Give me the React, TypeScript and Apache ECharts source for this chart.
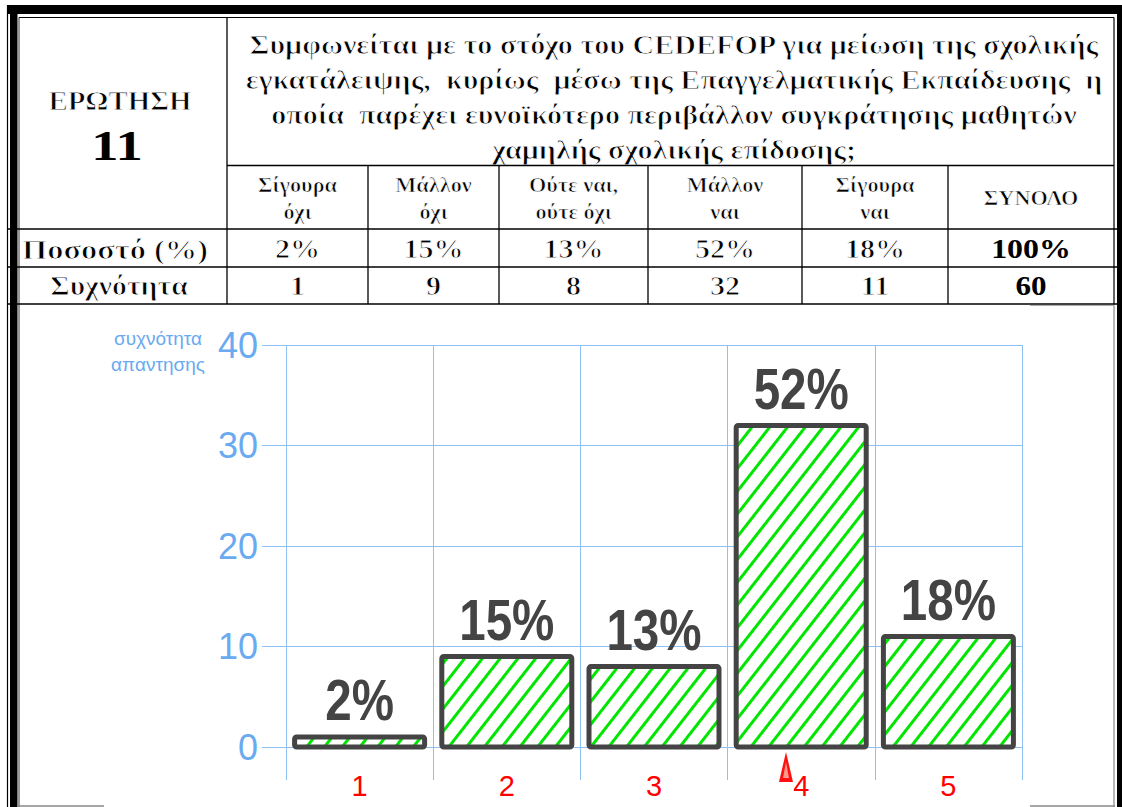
import React, { useEffect, useRef } from "react";
import * as echarts from "echarts";

// ---- data ----
const questionNo = "11";
const questionLines = [
  "Συμφωνείται με το στόχο του CEDEFOP για μείωση της σχολικής",
  "εγκατάλειψης,  κυρίως  μέσω της Επαγγελματικής Εκπαίδευσης  η",
  "οποία  παρέχει ευνοϊκότερο περιβάλλον συγκράτησης μαθητών",
  "χαμηλής σχολικής επίδοσης;",
];
const answerLabels = ["Σίγουρα\nόχι", "Μάλλον\nόχι", "Ούτε ναι,\nούτε όχι", "Μάλλον\nναι", "Σίγουρα\nναι"];
const totalLabel = "ΣΥΝΟΛΟ";
const percentages = [2, 15, 13, 52, 18];
const frequencies = [1, 9, 8, 32, 11];
const totalPercent = 100;
const totalCount = 60;
const categories = ["1", "2", "3", "4", "5"];
const yTicks = [0, 10, 20, 30, 40];

const SANS = "Liberation Sans, Arial, sans-serif";
const SERIF = "'Liberation Serif', serif";
const BLUE_LINE = "#8ec0f4";
const BLUE_TEXT = "#6aaaf0";
const BAR_W = 130;
const SX = 1.115;

function buildTable(): any[] {
  const g: any[] = [];
  const line = (x1: number, y1: number, x2: number, y2: number, w = 1.3, c = "#000") =>
    g.push({ type: "line", silent: true, shape: { x1, y1, x2, y2 }, style: { stroke: c, lineWidth: w } });
  const rect = (x: number, y: number, width: number, height: number, c = "#000") =>
    g.push({ type: "rect", silent: true, shape: { x, y, width, height }, style: { fill: c } });
  // serif text; regular weight is imitated by thinning the bold face with a white outline layer
  const text = (t: string, x: number, y: number, size: number, opts: any = {}) => {
    const base = {
      type: "text",
      silent: true,
      x,
      y,
      scaleX: opts.sx || SX,
    };
    const st = {
      text: t,
      font: "bold " + size + "px " + SERIF,
      align: "center",
      verticalAlign: "middle",
      lineHeight: opts.lh || Math.round(size * 1.15),
    };
    g.push({ ...base, style: { ...st, fill: "#000" } });
    if (!opts.bold) {
      g.push({ ...base, style: { ...st, fill: "none", stroke: "#fff", lineWidth: opts.thin || 0.9 } });
    }
  };

  rect(7, 5, 1115, 9);
  rect(10, 5, 7.5, 802);
  rect(1117, 5, 5, 802);
  line(7.5, 5, 7.5, 807, 1.2);
  line(19, 17.5, 19, 807, 1.2, "#555");
  line(19, 17.5, 1114, 17.5, 1.2);
  line(1114, 17.5, 1114, 304, 1.2);
  line(1114, 304, 1114, 807, 1.2, "#888");

  const colX = [227, 368, 499, 648, 802, 948, 1114];
  const centers = colX.slice(0, -1).map((x, i) => (x + colX[i + 1]) / 2);

  text("ΕΡΩΤΗΣΗ", 120, 101, 27, { sx: 1.07 });
  text(questionNo, 117, 146, 42, { bold: true, sx: 1.3 });
  questionLines.forEach((l, i) => text(l, 674, 45 + i * 35, 27));
  answerLabels.forEach((l, i) => text(l, centers[i], 199, 20, { lh: 27, thin: 0.7 }));
  text(totalLabel, centers[5], 198, 20, { thin: 0.7 });
  text("Ποσοστό (%)", 115, 249, 27, { sx: 1.2 });
  text("Συχνότητα", 119, 286, 27, { sx: 1.1 });
  percentages.forEach((p, i) => text(p + "%", centers[i], 249, 27));
  frequencies.forEach((f, i) => text(String(f), centers[i], 286, 27));
  text(totalPercent + "%", centers[5], 249, 27, { bold: true, sx: 1.18 });
  text(String(totalCount), centers[5], 286, 27, { bold: true, sx: 1.15 });

  line(227, 17.5, 227, 304);
  line(227, 165.5, 1114, 165.5);
  [229, 267, 304].forEach((y) => line(7, y, 1117, y));
  colX.slice(1, -1).forEach((x) => line(x, 165.5, x, 304));
  line(1030, 305.5, 1114, 305.5, 1, "#aaa");
  line(18, 806, 104, 806, 1.5, "#888");
  line(1030, 806, 1115, 806, 1.5, "#888");

  g.push({
    type: "text",
    silent: true,
    x: 158,
    y: 351,
    style: {
      text: "συχνότητα\nαπαντησης",
      fill: BLUE_TEXT,
      font: "19px " + SANS,
      align: "center",
      verticalAlign: "middle",
      lineHeight: 26,
    },
  });
  g.push({
    type: "polygon",
    silent: true,
    shape: { points: [[786, 752], [779, 782], [793, 782]] },
    style: { fill: "#ff1010" },
  });
  g.push({
    type: "polygon",
    silent: true,
    shape: { points: [[786, 762], [783, 778], [789, 778]] },
    style: { fill: "#ff9a8a" },
  });
  return g;
}

export default function App() {
  const ref = useRef<HTMLDivElement>(null);
  useEffect(() => {
    if (!ref.current) return;
    const chart = echarts.init(ref.current, undefined, { renderer: "svg" });
    chart.setOption({
      animation: false,
      backgroundColor: "#fff",
      grid: { left: 286, right: 100, top: 345, bottom: 60, containLabel: false },
      xAxis: {
        type: "category",
        data: categories,
        boundaryGap: true,
        axisLine: { show: true, lineStyle: { color: BLUE_LINE, width: 1 } },
        axisTick: { show: true, length: 33, lineStyle: { color: BLUE_LINE, width: 1 } },
        splitLine: { show: true, lineStyle: { color: BLUE_LINE, width: 1 } },
        axisLabel: { color: "#ff0000", fontSize: 29, fontFamily: SANS, margin: 24 },
      },
      yAxis: {
        type: "value",
        min: yTicks[0],
        max: yTicks[yTicks.length - 1],
        interval: 10,
        axisLine: { show: false },
        axisTick: { show: true, length: 24, lineStyle: { color: BLUE_LINE, width: 1 } },
        splitLine: { show: true, lineStyle: { color: BLUE_LINE, width: 1 } },
        axisLabel: {
          color: BLUE_TEXT,
          fontSize: 36,
          fontFamily: SANS,
          margin: 28,
          verticalAlign: "middle",
          padding: [0, 0, 16, 0],
        },
      },
      series: [
        {
          type: "bar",
          data: frequencies,
          barWidth: BAR_W,
          z: 2,
          itemStyle: {
            color: "#ffffff",
            borderWidth: 0,
            decal: {
              symbol: "rect",
              symbolSize: 1,
              dashArrayX: [1, 0],
              dashArrayY: [2.3, 11],
              rotation: (-52 * Math.PI) / 180,
              color: "#00e600",
              backgroundColor: "#ffffff",
            },
          },
        },
        {
          type: "custom",
          z: 3,
          data: frequencies.map((v, i) => [i, v]),
          renderItem: (params: any, api: any) => {
            const top = api.coord([api.value(0), api.value(1)]);
            const base = api.coord([api.value(0), 0]);
            return {
              type: "group",
              children: [
                {
                  type: "rect",
                  shape: { x: top[0] - BAR_W / 2, y: top[1], width: BAR_W, height: base[1] - top[1], r: 2 },
                  style: { fill: "none", stroke: "#444444", lineWidth: 5, lineJoin: "round" },
                },
                {
                  type: "text",
                  x: top[0],
                  y: top[1] - 8,
                  scaleX: 0.82,
                  style: {
                    text: percentages[params.dataIndex] + "%",
                    fill: "#444444",
                    font: "bold 58px " + SANS,
                    align: "center",
                    verticalAlign: "bottom",
                  },
                },
              ],
            };
          },
        },
      ],
      graphic: { elements: buildTable() },
    });
    return () => chart.dispose();
  }, []);
  return (
    <div
      ref={ref}
      style={{ position: "absolute", left: 0, top: 0, width: 1122, height: 807, background: "#fff" }}
    />
  );
}
